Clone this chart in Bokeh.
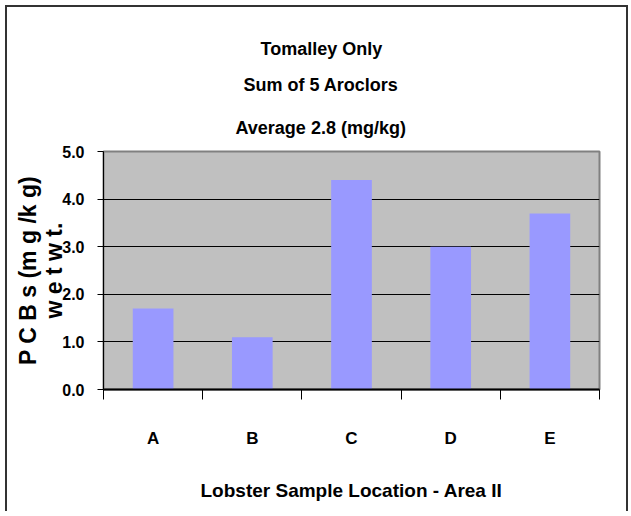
from bokeh.plotting import figure
from bokeh.models import ColumnDataSource, FixedTicker, Range1d, LinearAxis, Grid, Title
from bokeh.embed import file_html
from bokeh.resources import INLINE

categories = ["A", "B", "C", "D", "E"]
pcbs = [1.7, 1.1, 4.4, 3.0, 3.7]
y_ticks = [0, 1, 2, 3, 4, 5]
title_lines = ["Tomalley Only", "Sum of 5 Aroclors", "Average 2.8 (mg/kg)"]
x_title = "Lobster Sample Location - Area II"
y_title = "P C B s (m g /k g)\nw e t w t."

FONT = "Liberation Sans"

xs = [i + 0.5 for i in range(len(categories))]
source = ColumnDataSource(data=dict(x=xs, top=pcbs, cat=categories))

p = figure(width=623, height=506, output_backend="svg", toolbar_location=None,
           x_range=Range1d(0, len(categories)), y_range=Range1d(0, 5),
           x_axis_type=None, y_axis_type=None,
           min_border_left=96, min_border_top=144, min_border_right=31,
           min_border_bottom=124,
           background_fill_color="#C0C0C0", border_fill_color="white",
           styles={"margin-left": "5px", "margin-top": "5px",
                   "border-top": "2px solid #333333",
                   "border-left": "2px solid #333333",
                   "border-right": "2px solid #333333"})

p.outline_line_color = "#808080"
p.outline_line_width = 2

p.add_layout(Grid(dimension=1, ticker=FixedTicker(ticks=y_ticks),
                  grid_line_color="black", grid_line_width=1))

p.vbar(x="x", top="top", width=0.41, bottom=0, source=source,
       fill_color="#9999FF", line_color=None)

# y axis
yax = LinearAxis(ticker=FixedTicker(ticks=y_ticks, minor_ticks=[]))
yax.major_label_overrides = {t: f"{t:.1f}" for t in y_ticks}
yax.axis_line_color = "black"
yax.axis_line_width = 1
yax.major_tick_in = 0
yax.major_tick_out = 6
yax.major_tick_line_color = "black"
yax.minor_tick_line_color = None
yax.major_label_standoff = 13
yax.major_label_text_font = FONT
yax.major_label_text_font_style = "bold"
yax.major_label_text_font_size = "16px"
yax.major_label_text_color = "black"
yax.axis_label = y_title
yax.axis_label_standoff = -8
yax.axis_label_text_font = FONT
yax.axis_label_text_font_style = "bold"
yax.axis_label_text_font_size = "23px"
yax.axis_label_text_line_height = 1.0
yax.axis_label_text_color = "black"
p.add_layout(yax, "left")

# x axis: labels at centres, ticks at boundaries
xax = LinearAxis(ticker=FixedTicker(ticks=xs,
                                    minor_ticks=list(range(len(categories) + 1))))
xax.major_label_overrides = {x: c for x, c in zip(xs, categories)}
xax.axis_line_color = "black"
xax.axis_line_width = 2
xax.major_tick_line_color = None
xax.major_tick_in = 0
xax.major_tick_out = 0
xax.minor_tick_in = 0
xax.minor_tick_out = 10
xax.minor_tick_line_color = "black"
xax.minor_tick_line_width = 1
xax.major_label_standoff = 29
xax.major_label_text_font = FONT
xax.major_label_text_font_style = "bold"
xax.major_label_text_font_size = "17px"
xax.major_label_text_color = "black"
xax.axis_label = x_title
xax.axis_label_standoff = 29
xax.axis_label_text_font = FONT
xax.axis_label_text_font_style = "bold"
xax.axis_label_text_font_size = "19px"
xax.axis_label_text_color = "black"
p.add_layout(xax, "below")

# titles, added from the frame outward
for line, so, off in zip(reversed(title_lines), [28, 13, 16], [132, 140, 157]):
    p.add_layout(Title(text=line, align="left", offset=off, standoff=so,
                       text_font=FONT, text_font_style="bold",
                       text_font_size="18px", text_color="black"), "above")

open("out.html", "w").write(file_html(p, INLINE))
